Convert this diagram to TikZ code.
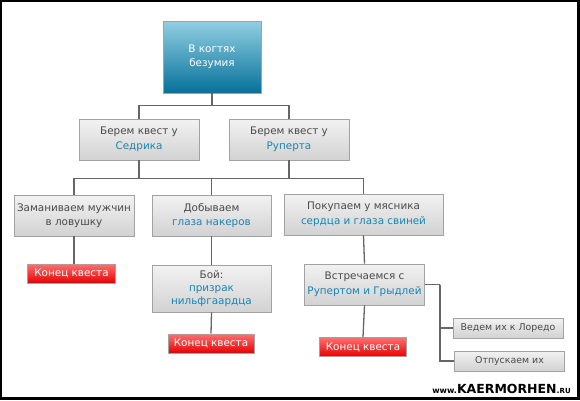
\documentclass[tikz,border=0pt]{standalone}
\usepackage{fontspec}
\setmainfont{DejaVu Sans}
\definecolor{txtgray}{HTML}{4A4A4A}
\definecolor{txtblue}{HTML}{1885B2}
\definecolor{linegray}{HTML}{666666}
\definecolor{boxedge}{HTML}{A2A2A2}
\definecolor{boxtop}{HTML}{F2F2F2}
\definecolor{boxbot}{HTML}{D2D2D2}
\definecolor{redtop}{HTML}{FF7070}
\definecolor{redbot}{HTML}{E80000}
\definecolor{bluetop}{HTML}{92CFE2}
\definecolor{bluebot}{HTML}{06719A}
\newcommand{\bl}[1]{\textcolor{txtblue}{#1}}
\begin{document}
\begin{tikzpicture}[x=1pt, y=-1pt,
  every node/.style={font=\fontsize{10.4}{14.5}\selectfont, text=txtgray, align=center, inner sep=1pt},
  line/.style={draw=linegray, line width=1.3pt},
  box/.style={draw=boxedge, line width=0.8pt, top color=boxtop, bottom color=boxbot, minimum width=120pt, minimum height=41pt},
  smallbox/.style={box, minimum width=110pt, minimum height=20pt},
  endbox/.style={draw=boxedge, line width=0.8pt, top color=redtop, bottom color=redbot, text=white, minimum width=88pt, minimum height=19pt},
  topbox/.style={draw=boxedge, line width=0.8pt, top color=bluetop, bottom color=bluebot, text=white, minimum width=98pt, minimum height=72pt}]
    % frame
    \fill[black] (0,0) rectangle (580,400);
    \fill[white] (2,2) rectangle (577,397);
    \useasboundingbox (0,0) rectangle (580,400);

    \node[topbox] (top) at (212,57) {В когтях\\безумия};
    \node[box] (ced) at (139,139.5) {Берем квест у\\\bl{Седрика}};
    \node[box] (rup) at (289,139.5) {Берем квест у\\\bl{Руперта}};
    \node[box] (lure) at (74,215.5) {Заманиваем мужчин\\в ловушку};
    \node[box, minimum width=119pt] (eyes) at (211.5,215.5) {Добываем\\\bl{глаза накеров}};
    \node[box, minimum width=159pt] (buy) at (363.5,214.5) {Покупаем у мясника\\\bl{сердца и глаза свиней}};
    \node[endbox] (end1) at (71.5,273.5) {Конец квеста};
    \node[box, minimum width=119pt, minimum height=47pt, font=\fontsize{10.4}{13}\selectfont] (fight) at (211.5,288.5) {Бой:\\\bl{призрак}\\\bl{нильфгаардца}};
    \node[endbox, minimum width=86pt] (end2) at (211,343.5) {Конец квеста};
    \node[box] (meet) at (364.5,284.5) {Встречаемся с\\\bl{Рупертом и Грыдлей}};
    \node[endbox, minimum width=87pt] (end3) at (363,347) {Конец квеста};
    \node[smallbox, font=\fontsize{9.4}{10}\selectfont] (lead) at (508,328) {Ведем их к Лоредо};
    \node[smallbox, font=\fontsize{9.4}{10}\selectfont] (free) at (509.5,361) {Отпускаем их};

    \draw[line] (top.south) -- ++(0,12) coordinate (b1);
    \draw[line] (b1) -| (ced.north);
    \draw[line] (b1) -| (rup.north);
    \draw[line] (ced.south) -- ++(0,18) coordinate (b2);
    \draw[line] (rup.south) |- (b2);
    \draw[line] (b2) -| (lure.north);
    \draw[line] (b2) -| (eyes.north);
    \draw[line] (b2) -| (buy.north);
    \draw[line] (lure.south) -- (lure.south |- end1.north);
    \draw[line] (eyes.south) -- (fight.north);
    \draw[line] (fight.south) -- (end2.north);
    \draw[line] (buy.south) -- (meet.north);
    \draw[line] (meet.south) -- (end3.north);
    \draw[line] (meet.east) -- ++(15,0) coordinate (b3);
    \draw[line] (b3) |- (lead.west);
    \draw[line] (b3) |- (free.west);

    \node[text=black, font=\bfseries\fontsize{8}{8}\selectfont, anchor=base east, inner sep=0pt] (logo) at (571,393)
      {www.{\fontsize{12.5}{12}\selectfont KAERMORHEN}.{\fontsize{7}{7}\selectfont RU}};
\end{tikzpicture}
\end{document}
